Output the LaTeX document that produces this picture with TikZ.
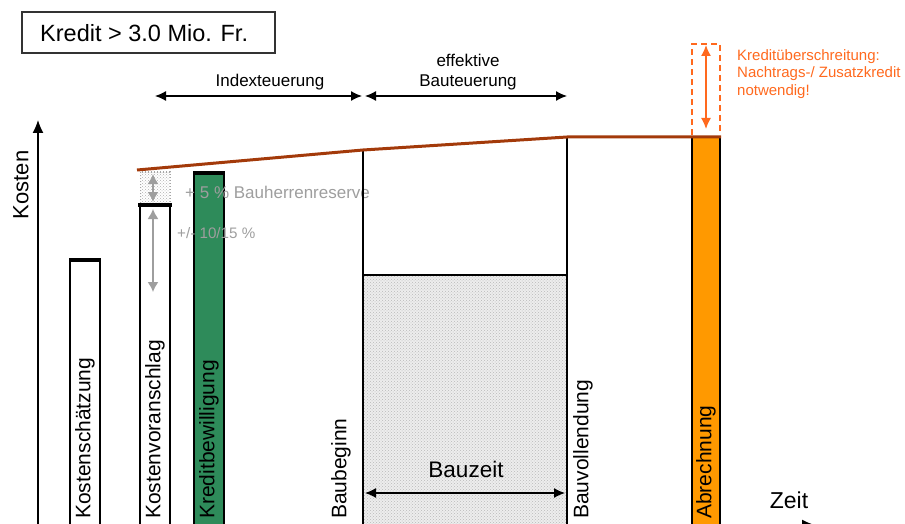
\documentclass[tikz,border=0pt]{standalone}
\usepackage{fontspec}
\setmainfont{Liberation Sans}
\usetikzlibrary{arrows.meta,patterns}

\definecolor{kurve}{RGB}{163,58,10}
\definecolor{kreditgruen}{RGB}{46,139,90}
\definecolor{abrorange}{RGB}{255,153,0}
\definecolor{warnorange}{RGB}{255,105,30}
\definecolor{hinweisgrau}{RGB}{158,158,158}

\def\bauzeitrect{(363,275) rectangle (567,530)}
\def\reserverect{(140,172) rectangle (170,205)}

\tikzset{
  balken/.style={draw=black, line width=1.2pt},
  deckel/.style={line width=4pt},
  stichtag/.style={line width=2.4pt},
  bemasst/.style={line width=1.3pt, {Latex[length=11pt,width=10pt]}-{Latex[length=11pt,width=10pt]}},
  graupfeil/.style={hinweisgrau, line width=1.6pt, {Latex[length=10pt,width=11pt]}-{Latex[length=10pt,width=11pt]}},
  balkentext/.style={rotate=90, anchor=west, inner sep=0pt, font=\fontsize{21}{25}\selectfont},
  hinweis/.style={hinweisgrau, anchor=west, inner sep=0pt},
}

\begin{document}
\begin{tikzpicture}[x=1pt,y=-1pt]
\useasboundingbox (0,0) rectangle (905,524);

% Rahmen oben links
\draw[black!80, line width=1.8pt] (22,12) rectangle (275,53);
\node[anchor=west, inner sep=0pt, font=\fontsize{23.5}{27}\selectfont] (kredit) at (40,33) {Kredit > 3.0 Mio. Fr.};

% Achsen
\coordinate (ursprung) at (38,525);
\coordinate (kostenende) at (38,120);
\coordinate (zeitende) at (815,525);
\draw[line width=1.3pt, -{Latex[length=13pt,width=11pt]}] (ursprung) -- (kostenende);
\draw[line width=1.3pt, -{Latex[length=13pt,width=11pt]}] (ursprung) -- (zeitende);
\node[rotate=90, font=\fontsize{22}{26}\selectfont] (kosten) at (21,185) {Kosten};
\node[font=\fontsize{23}{27}\selectfont] (zeit) at (789,500) {Zeit};

% Bauzeit
\fill[gray!14] \bauzeitrect;
\fill[pattern=crosshatch dots, pattern color=gray!55] \bauzeitrect;
\draw[line width=1.2pt] (363,275) -- (567,275);

% Kostenschaetzung
\draw[balken, fill=white] (70,260) rectangle (100,530);
\draw[deckel] (69,260) -- (101,260);
\node[balkentext] (schaetzung) at (85,519) {Kostenschätzung};

% Kostenvoranschlag mit Reserve
\fill[white] \reserverect;
\fill[pattern=crosshatch dots, pattern color=gray!60] \reserverect;
\draw[gray!70, dotted, line width=1pt] \reserverect;
\draw[balken, fill=white] (140,205) rectangle (170,530);
\draw[deckel] (138,205) -- (172,205);
\node[balkentext] (voranschlag) at (155,519) {Kostenvoranschlag};
\coordinate (res-oben) at (153,174);
\coordinate (res-unten) at (153,202);
\coordinate (gen-oben) at (153,209);
\coordinate (gen-unten) at (153,292);
\draw[graupfeil] (res-oben) -- (res-unten);
\draw[graupfeil] (gen-oben) -- (gen-unten);

% Kreditbewilligung
\draw[balken, fill=kreditgruen] (194,173) rectangle (224,530);
\draw[deckel] (193,173) -- (225,173);
\node[balkentext] (bewilligung) at (209,519) {Kreditbewilligung};

\node[hinweis, font=\fontsize{17}{20}\selectfont] (reserve) at (185,192) {+ 5 \% Bauherrenreserve};
\node[hinweis, font=\fontsize{15.2}{18}\selectfont] (genauigkeit) at (177,233) {+/- 10/15 \%};

% Stichtage
\draw[stichtag] (363,150) -- (363,530);
\draw[stichtag] (567,137) -- (567,530);
\node[balkentext] (baubeginn) at (341,519) {Baubeginn};
\node[balkentext] (bauende) at (583,519) {Bauvollendung};

\coordinate (bz-links) at (365,493);
\coordinate (bz-rechts) at (565,493);
\draw[bemasst] (bz-links) -- (bz-rechts);
\node[font=\fontsize{22.5}{26}\selectfont] (bauzeit) at (466,469) {Bauzeit};

% Abrechnung
\draw[balken, fill=abrorange] (692,137) rectangle (720,530);
\node[balkentext] (abrechnung) at (706,519) {Abrechnung};

% Kostenkurve
\draw[kurve, line width=3pt] (137,170) -- (363,150) -- (567,137) -- (721,137);

% Teuerung
\coordinate (ix-links) at (155,96);
\coordinate (ix-rechts) at (362,96);
\coordinate (bt-links) at (365,96);
\coordinate (bt-rechts) at (567,96);
\draw[bemasst] (ix-links) -- (ix-rechts);
\draw[bemasst] (bt-links) -- (bt-rechts);
\node[font=\fontsize{17}{20}\selectfont] (index) at (270,82) {Indexteuerung};
\node[font=\fontsize{17}{20}\selectfont, align=center] (effektiv) at (468,72) {effektive\\Bauteuerung};

% Kreditueberschreitung
\draw[warnorange, dashed, dash pattern=on 6pt off 4pt, line width=1.5pt] (692,135) -- (692,44) -- (720,44) -- (720,135);
\coordinate (ue-oben) at (706,45);
\coordinate (ue-unten) at (706,129);
\draw[warnorange, line width=1.5pt, {Latex[length=11pt,width=10pt]}-{Latex[length=11pt,width=10pt]}] (ue-oben) -- (ue-unten);
\node[warnorange, anchor=north west, inner sep=0pt, align=left,
      font=\fontsize{15}{17.5}\selectfont] (ueberschreitung) at (737,49)
  {Kreditüberschreitung:\\Nachtrags-/ Zusatzkredit\\notwendig!};
\end{tikzpicture}
\end{document}
